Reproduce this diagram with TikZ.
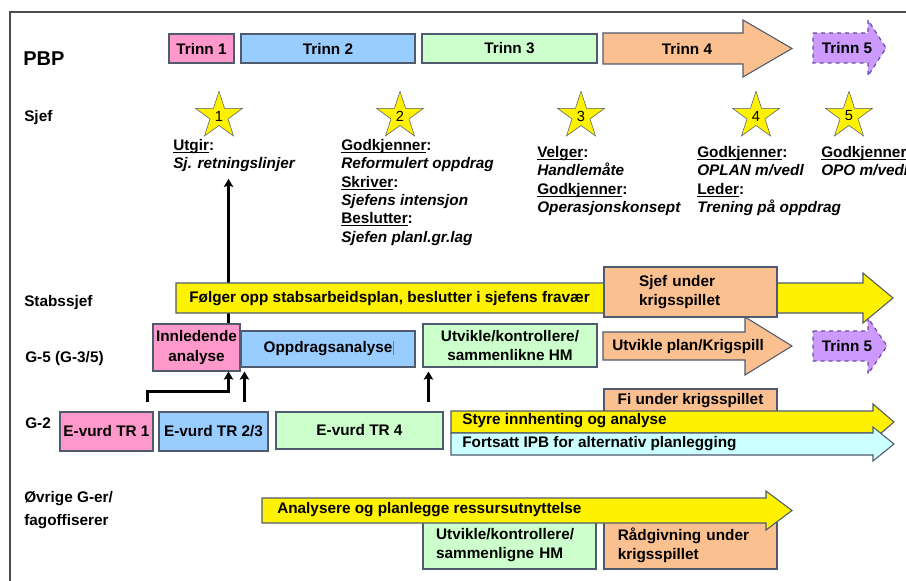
\documentclass[tikz,border=0pt]{standalone}
\usepackage{fontspec}
\setmainfont{Liberation Sans}
\usetikzlibrary{shapes.geometric,arrows.meta}

\definecolor{pinkbox}{HTML}{FF99CC}
\definecolor{bluebox}{HTML}{99CCFF}
\definecolor{greenbox}{HTML}{CCFFCC}
\definecolor{peachbox}{HTML}{FAC090}
\definecolor{lilac}{HTML}{CC99FF}
\definecolor{lilacedge}{HTML}{6A4C9C}
\definecolor{cyanbox}{HTML}{CCFFFF}
\definecolor{edge}{HTML}{505A6E}

% fat arrow: style, x left, y top, y bottom, x head, head extend, x tip
\newcommand{\fatarrow}[7]{%
  \draw[#1] (#2,#3) -- (#5,#3) -- (#5,#3-#6) -- (#7,{(#3+#4)/2})
    -- (#5,#4+#6) -- (#5,#4) -- (#2,#4) -- cycle;}
% underline close to the baseline
\newsavebox{\undlbox}
\newcommand{\undl}[1]{\sbox{\undlbox}{#1}\rlap{\rule[-1.8pt]{\wd\undlbox}{0.75pt}}\usebox{\undlbox}}

\begin{document}
\begin{tikzpicture}[
            x=0.75pt, y=-0.75pt,
            every node/.style={font=\bfseries\fontsize{11.5}{14.5}\selectfont, inner sep=0pt},
            span/.style n args={4}{minimum width={(#3-#1)*0.75pt}, minimum height={(#4-#2)*0.75pt},
                at={({(#1+#3)/2},{(#2+#4)/2})}},
            box/.style={draw=edge, line width=0.8pt},
            arrowbox/.style={draw=edge, line width=0.8pt},
            dashbox/.style={draw=lilacedge, line width=0.9pt, dashed, fill=lilac},
            starnode/.style={star, star points=5, star point ratio=2.6, draw=edge, fill=yellow,
                minimum size=37pt, font=\fontsize{11}{13}\selectfont},
            txtblock/.style={anchor=north west, align=left, font=\bfseries\fontsize{11.5}{13.8}\selectfont},
            flow/.style={draw, line width=2pt, -{Stealth[length=6pt,width=7pt,inset=1pt]}}
            ]
            \clip (0,0) rectangle (906,581);
            \draw[gray!60!black, line width=0.9pt] (10,581) -- (10,12) -- (906,12);

            % row labels
            \node[anchor=base west, font=\bfseries\fontsize{15}{18}\selectfont] (pbp) at (23,66) {PBP};
            \node[anchor=base west] (sjef) at (24,122) {Sjef};
            \node[anchor=base west] (stabssjef) at (24,306) {Stabssjef};
            \node[anchor=base west] (g5) at (25,362) {G-5 (G-3/5)};
            \node[anchor=base west] (g2) at (25,428) {G-2};
            \node[anchor=north west, align=left] (ovrige) at (24,491) {Øvrige G-er/\\[3pt]fagoffiserer};

            % PBP trinn
            \node[box, fill=pinkbox, span={169}{34}{234}{63}] (trinn1) {Trinn 1};
            \node[box, fill=bluebox, span={241}{34}{415}{63}] (trinn2) {Trinn 2};
            \node[box, fill=greenbox, span={422}{34}{597}{63}] (trinn3) {Trinn 3};
            \fatarrow{arrowbox, fill=peachbox}{603}{33}{64}{743}{13}{792}
            \node (trinn4) at (687,49) {Trinn 4};
            \fatarrow{dashbox}{813}{33}{63}{868}{13}{886}
            \node (trinn5) at (847,48) {Trinn 5};

            % sjef
            \foreach \n/\x in {1/219, 2/400, 3/581, 4/756, 5/849}{
                \node[starnode] (star\n) at (\x,116) {\n};
            }
            \node[txtblock] (utgir) at (173,139) {\undl{Utgir}:\\\textit{Sj. retningslinjer}};
            \node[txtblock] (godkj2) at (341,139) {\undl{Godkjenner}:\\\textit{Reformulert oppdrag}\\
                \undl{Skriver}:\\\textit{Sjefens intensjon}\\\undl{Beslutter}:\\\textit{Sjefen planl.gr.lag}};
            \node[txtblock] (velger) at (537,146) {\undl{Velger}:\\\textit{Handlemåte}\\
                \undl{Godkjenner}:\\\textit{Operasjonskonsept}};
            \node[txtblock] (godkj4) at (697,146) {\undl{Godkjenner}:\\\textit{OPLAN m/vedl}\\
                \undl{Leder}:\\\textit{Trening på oppdrag}};
            \node[txtblock] (godkj5) at (821,146) {\undl{Godkjenner}\\\textit{OPO m/vedl}};

            % G-5
            \node[box, fill=pinkbox, span={153}{324}{240}{371}, align=center] (innl) {Innledende\\analyse};
            \node[box, fill=bluebox, span={241}{331}{415}{367}] (opp) {Oppdragsanalyse};
            \draw[gray, line width=0.6pt] (393,341) -- (393,355);
            \node[box, fill=greenbox, span={423}{324}{597}{367}, align=center] (hm1) {Utvikle/kontrollere/\\sammenlikne HM};
            \fatarrow{arrowbox, fill=peachbox}{603}{332}{360}{745}{15}{792}
            \node[anchor=west] (krigspill) at (612,347) {Utvikle plan/Krigspill};

            % stabssjef
            \coordinate (in2) at ([xshift=-9pt]innl.north east);
            \draw[flow, shorten >=5pt] (in2) -- (in2 |- utgir.south);
            \fatarrow{arrowbox, fill=yellow}{176}{283}{313}{863}{10}{893}
            \node[anchor=west] (folger) at (189,299) {Følger opp stabsarbeidsplan, beslutter i sjefens fravær};
            \node[box, fill=peachbox, span={604}{267}{777}{317}, text width=77pt, align=left] (sjefkrig) {Sjef under\\krigsspillet};
            \fatarrow{dashbox}{813}{331}{361}{868}{13}{887}
            \node (trinn5b) at (847,346) {Trinn 5};

            % G-2
            \node[box, fill=pinkbox, span={60}{412}{153}{451}] (tr1) {E-vurd TR 1};
            \node[box, fill=bluebox, span={159}{412}{268}{451}] (tr23) {E-vurd TR 2/3};
            \node[box, fill=greenbox, span={276}{412}{443}{449}] (tr4) {E-vurd TR 4};
            \node[box, fill=peachbox, span={604}{389}{777}{413}] (fikrig) {Fi under krigsspillet};
            \fatarrow{arrowbox, fill=yellow}{451}{411}{433}{873}{7}{894}
            \node[anchor=west] (styre) at (462,421) {Styre innhenting og analyse};
            \fatarrow{arrowbox, fill=cyanbox}{451}{433}{455}{873}{6}{894}
            \node[anchor=west] (ipb) at (462,444) {Fortsatt IPB for alternativ planlegging};

            \coordinate (up1) at ([xshift=-4.5pt]tr1.north east);
            \coordinate (in1) at ([xshift=-9pt]innl.south east);
            \draw[flow, shorten <=6.75pt] (up1) |- ([yshift=-15pt]in1) -- (in1);
            \coordinate (up23) at ([xshift=3pt]opp.south west);
            \draw[flow, shorten <=6.75pt] (up23 |- tr23.north) -- (up23 |- innl.south);
            \coordinate (up4) at ([xshift=4.5pt]hm1.south west);
            \draw[flow, shorten <=6.75pt] (up4 |- tr4.north) -- (up4 |- innl.south);

            % ovrige G-er
            \node[box, fill=greenbox, span={423}{521}{596}{569}, text width=110pt, align=left] (hm2) {Utvikle/kontrollere/\\sammenligne HM};
            \node[box, fill=peachbox, span={604}{521}{777}{569}, text width=109pt, align=left] (radgiv) {Rådgivning under\\krigsspillet};
            \fatarrow{arrowbox, fill=yellow}{262}{498}{523}{766}{7}{792}
            \node[anchor=west] (ressurs) at (277,510) {Analysere og planlegge ressursutnyttelse};
        \end{tikzpicture}
\end{document}
